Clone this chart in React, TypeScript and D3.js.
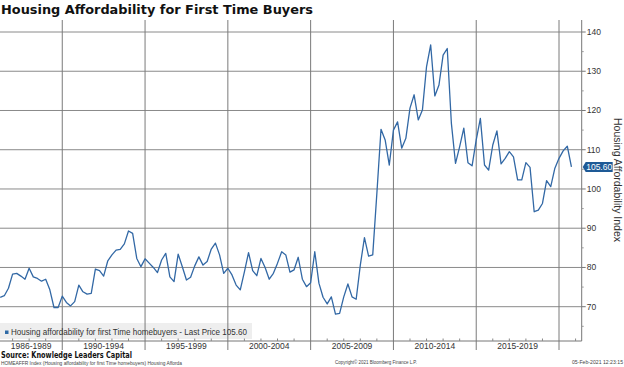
import React from "react";
import * as d3 from "d3";

// quarterly values, first point is Q2 1986
const startYear = 1986.25;
const affordability = [
  72.4, 72.8, 74.7,
  78.3, 78.5, 77.8, 77.0,
  79.8, 77.6, 77.2, 76.5,
  77.0, 74.3, 69.8, 69.8,
  72.7, 71.1, 70.2, 71.3,
  75.5, 73.8, 73.2, 73.4,
  79.6, 79.2, 77.8, 81.7,
  83.2, 84.4, 84.6, 86.0,
  89.3, 88.7, 82.3, 80.2,
  82.2, 81.1, 80.0, 78.7,
  81.9, 83.6, 77.6, 76.4,
  83.4, 80.2, 76.8, 77.5,
  80.4, 82.7, 80.6, 81.5,
  84.7, 86.2, 83.2, 78.5,
  79.8, 78.1, 75.5, 74.3,
  78.9, 83.8, 79.2, 77.9,
  82.3, 80.0, 77.0, 78.5,
  81.1, 84.0, 83.2, 78.8,
  79.4, 82.6, 77.0, 75.1,
  76.1, 84.0, 76.0, 72.4,
  70.7, 72.5, 68.1, 68.3,
  72.5, 75.8, 72.5, 71.9,
  80.6, 87.6, 82.9, 83.2,
  98.9, 115.2, 112.5, 106.1,
  115.0, 117.1, 110.4, 112.9,
  120.6, 124.0, 117.6, 120.1,
  131.2, 136.7, 123.7, 126.5,
  134.1, 135.8, 116.7, 106.5,
  110.8, 115.5, 106.7, 105.9,
  112.5, 118.0, 106.1, 104.8,
  111.2, 114.8, 106.4, 107.8,
  109.5, 108.2, 102.3, 102.3,
  106.7, 105.5, 94.2, 94.6,
  96.3, 102.1, 100.6, 105.3,
  107.8, 109.7, 110.9, 105.6,
];

const periodLabels = ["1986-1989", "1990-1994", "1995-1999", "2000-2004", "2005-2009", "2010-2014", "2015-2019"];
const periodBreaks = [1990, 1995, 2000, 2005, 2010, 2015, 2020];
const yTicks = [70, 80, 90, 100, 110, 120, 130, 140];
const lastPrice = "105.60";

export default function App() {
  const W = 624, H = 367;
  const axisX = 581.7, top = 20, bottom = 341;
  const domainStart = 1986.24, domainEnd = 2021.37;

  const x = d3.scaleLinear().domain([domainStart, domainEnd]).range([0, axisX]);
  const y = d3.scaleLinear().domain([70, 140]).range([306.7, 32]);

  const pts = affordability.map((v, i) => [startYear + i * 0.25, v] as [number, number]);
  const line = d3.line<[number, number]>().x(d => x(d[0])).y(d => y(d[1]));

  const bounds = [domainStart, ...periodBreaks];
  const years = d3.range(1987, 2022).filter(yr => yr % 5 !== 0);
  const minorY = d3.range(65, 141, 5).filter(v => v % 10 !== 0);
  const last = affordability[affordability.length - 1];
  const ly = y(last);
  const legendText = `Housing affordability for first Time homebuyers - Last Price ${lastPrice}`;

  return (
    <div style={{ position: "absolute", left: 0, top: 0, background: "#fff" }}>
      <svg width={W} height={H} style={{ display: "block" }}>
        <rect width={W} height={H} fill="#fff" />
        <text x={1} y={14} fontFamily="DejaVu Sans" fontWeight="bold" fontSize={12.5} fill="#111"
          textLength={312} lengthAdjust="spacingAndGlyphs">Housing Affordability for First Time Buyers</text>

        <rect x={0} y={323} width={252} height={16} fill="#eeeeee" />

        {yTicks.map(t => (
          <line key={"h" + t} x1={0} x2={axisX} y1={y(t)} y2={y(t)} stroke="#8a8a8a" strokeWidth={1} />
        ))}
        {periodBreaks.map(b => (
          <line key={"v" + b} x1={x(b)} x2={x(b)} y1={top} y2={350} stroke="#7a7a7a" strokeWidth={1} />
        ))}

        <line x1={0} x2={axisX} y1={bottom} y2={bottom} stroke="#777" strokeWidth={1} />
        {years.map(yr => (
          <line key={"m" + yr} x1={x(yr)} x2={x(yr)} y1={bottom - 2.5} y2={bottom} stroke="#888" strokeWidth={1} />
        ))}
        <line x1={axisX} x2={axisX} y1={top} y2={bottom} stroke="#777" strokeWidth={1} />
        {yTicks.map(t => (
          <g key={"t" + t}>
            <line x1={axisX} x2={axisX + 4} y1={y(t)} y2={y(t)} stroke="#777" />
            <text x={axisX + 5} y={y(t) + 3} fontFamily="Liberation Sans" fontSize={8.5} fill="#333">{t}</text>
          </g>
        ))}
        {minorY.map(t => (
          <line key={"mt" + t} x1={axisX} x2={axisX + 2} y1={y(t)} y2={y(t)} stroke="#999" />
        ))}

        <text transform={`translate(614,180) rotate(90)`} textAnchor="middle" fontFamily="Liberation Sans"
          fontSize={10} fill="#333" textLength={124} lengthAdjust="spacingAndGlyphs">Housing Affordability Index</text>

        {periodLabels.map((lab, i) => (
          <text key={lab} x={(x(bounds[i]) + x(bounds[i + 1])) / 2} y={349} textAnchor="middle"
            fontFamily="Liberation Sans" fontSize={8.5} fill="#333">{lab}</text>
        ))}

        <rect x={5} y={330.5} width={3.5} height={3.5} fill="#2f6aa6" />
        <text x={11} y={334.5} fontFamily="Liberation Sans" fontSize={9} fill="#333"
          textLength={236} lengthAdjust="spacingAndGlyphs">{legendText}</text>

        <path d={line(pts) || ""} fill="none" stroke="#3268a5" strokeWidth={1.3} strokeLinejoin="round" />

        <path d={`M${axisX + 1},${ly} L${axisX + 4},${ly - 5} L${axisX + 31},${ly - 5} L${axisX + 31},${ly + 5} L${axisX + 4},${ly + 5} Z`}
          fill="#1e5a96" />
        <text x={axisX + 17.5} y={ly + 3} textAnchor="middle" fontFamily="Liberation Sans" fontSize={8.5} fill="#fff">{lastPrice}</text>

        <text x={1} y={357.5} fontFamily="DejaVu Sans" fontWeight="bold" fontSize={8.5} fill="#111"
          textLength={131} lengthAdjust="spacingAndGlyphs">Source: Knowledge Leaders Capital</text>
        <text x={1} y={364.5} fontFamily="Liberation Sans" fontSize={5} fill="#444"
          textLength={181} lengthAdjust="spacingAndGlyphs">HOMEAFFR Index (Housing affordability for first Time homebuyers) Housing Afforda</text>
        <text x={335} y={364} fontFamily="Liberation Sans" fontSize={5} fill="#444"
          textLength={82} lengthAdjust="spacingAndGlyphs">Copyright© 2021 Bloomberg Finance L.P.</text>
        <text x={572} y={364} fontFamily="Liberation Sans" fontSize={5} fill="#444"
          textLength={51} lengthAdjust="spacingAndGlyphs">05-Feb-2021 12:23:15</text>
      </svg>
    </div>
  );
}
